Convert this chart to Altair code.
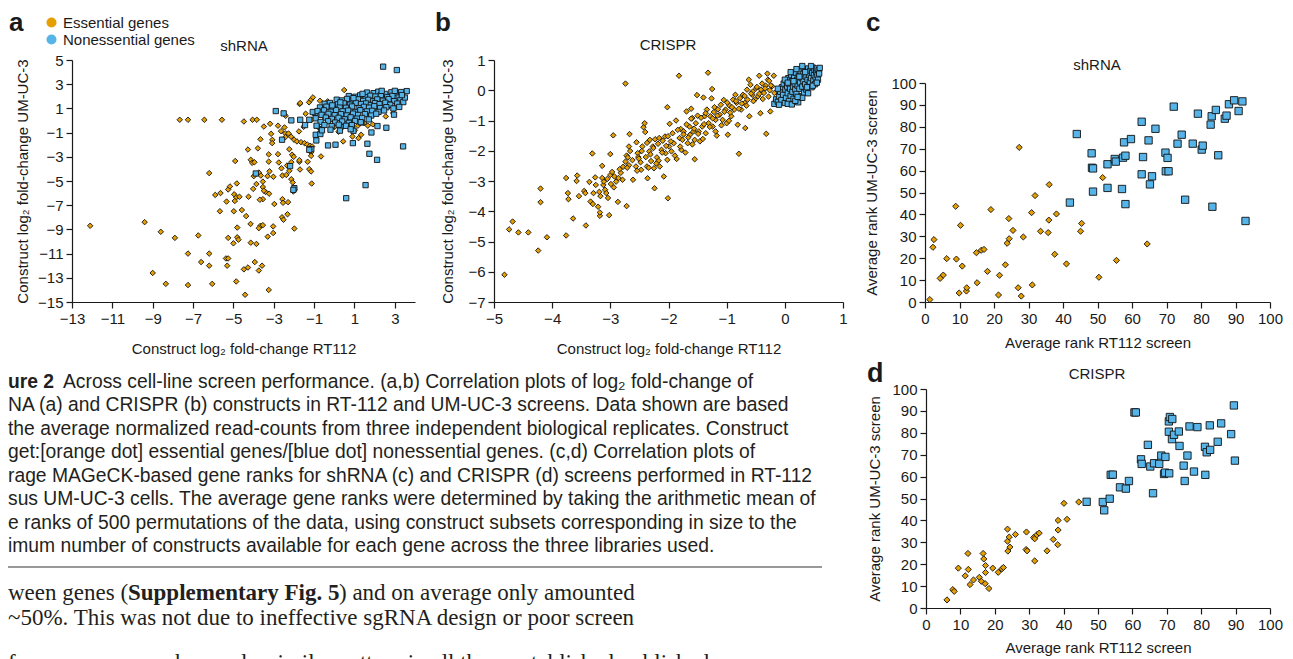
import altair as alt
import pandas as pd

FONT = "Liberation Sans"
SERIF = "Liberation Serif"
INK = "#1a1a1a"
ORANGE = "#E69F00"
BLUE = "#56B4E9"
GROUPS = ["Essential genes", "Nonessential genes"]

# ---------------- panel a : shRNA construct log2 fold-change ----------------
A_ESSENTIAL = [
    (-12.1, -8.7), (-9.4, -8.4), (-8.6, -9.2), (-7.9, -9.7), (-9.0, -12.6), (-8.35, -13.5), (-7.25, -13.6),
    (-7.25, -11.0), (-6.74, -9.5), (-6.6, -11.7), (-6.2, -11.0), (-6.2, -12.0), (-6.05, -13.5), (-6.2, -4.35),
    (-5.9, -6.15), (-5.64, -6.0), (-5.67, -7.5), (-5.34, -6.7), (-5.26, -5.7), (-5.17, -5.45), (-4.83, -5.2),
    (-4.91, -3.35), (-4.96, -6.1), (-4.86, -6.35), (-4.93, -6.65), (-4.7, -6.3), (-4.98, -7.5), (-4.81, -8.85),
    (-5.26, -9.7), (-5.0, -10.15), (-4.81, -9.65), (-4.75, -9.85), (-5.37, -11.4), (-5.26, -11.4), (-5.31, -12.0),
    (-4.86, -13.3), (-4.42, -14.4), (-4.48, -12.3), (-4.28, -12.15), (-3.94, -11.7), (-3.74, -12.4), (-3.58, -12.0),
    (-3.25, -14.0), (-4.58, -7.4), (-4.37, -7.9), (-4.15, -8.55), (-4.25, -6.3), (-4.28, -2.4), (-4.14, -3.25),
    (-4.07, -3.5), (-3.96, -3.45), (-3.99, -4.6), (-4.02, -5.65), (-3.86, -5.25), (-3.74, -4.3), (-3.64, -4.55),
    (-3.54, -5.05), (-3.54, -5.5), (-3.41, -5.9), (-3.54, -6.5), (-3.69, -6.55), (-3.49, -5.8), (-3.66, -8.7),
    (-3.54, -8.65), (-3.74, -8.9), (-4.14, -10.1), (-3.86, -10.2), (-3.66, -1.55), (-3.79, -2.3), (-3.25, -2.8),
    (-3.25, -3.4), (-3.21, -4.2), (-3.31, -4.6), (-3.02, -4.65), (-3.23, -6.05), (-2.97, -6.9), (-3.03, -8.75),
    (-3.03, -9.3), (-3.3, -9.6), (-3.49, -0.5), (-3.18, -0.27), (-3.13, -1.1), (-3.07, -1.6), (-3.08, -1.87),
    (-2.79, -0.43), (-2.79, -2.78), (-2.75, -3.47), (-2.62, -3.95), (-2.57, -4.55), (-2.57, -6.5), (-2.54, -6.8),
    (-2.59, -8.0), (-2.52, -8.2), (-2.32, -7.75), (-2.29, -6.75), (-2.64, -0.88), (-2.47, -0.57), (-2.42, -1.07),
    (-2.41, 0.39), (-2.42, -1.37), (-2.23, -2.37), (-2.09, -2.83), (-2.13, -3.44), (-2.01, -3.0), (-1.98, -8.93),
    (-2.03, -5.87), (-1.98, -5.68), (-2.13, -4.85), (-2.06, -5.12), (-2.34, -3.72), (-2.23, -4.16), (-2.38, -4.5),
    (-2.27, -1.07), (-2.14, -1.34), (-1.99, -1.59), (-1.85, -1.73), (-1.65, -1.79), (-1.48, -1.87), (-1.34, -1.98),
    (-1.2, -2.09), (-1.1, -2.14), (-1.73, -3.41), (-1.7, -4.05), (-1.73, -3.28), (-1.32, -3.41), (-1.24, -4.02),
    (-1.15, -4.21), (-1.12, -5.21), (-1.15, -2.64), (-1.15, -2.92), (-0.66, -2.97), (-1.72, 1.36), (-1.69, 1.44),
    (-1.25, 1.5), (-1.15, 1.72), (-1.06, 1.91), (-1.42, 0.56), (-1.52, -0.52), (-1.75, -0.9), (-1.12, 0.06),
    (-0.78, -0.57), (-0.71, 1.63), (0.49, 2.52), (0.0, -0.55), (0.44, -1.73), (0.9, -1.32), (1.17, -0.43),
    (1.2, -1.46), (1.33, -1.18), (1.48, -0.21), (1.66, -0.43), (2.55, 0.34), (1.73, 0.48), (-0.08, 1.0),
    (-7.66, 0.06), (-7.25, 0.06), (-6.44, 0.06), (-5.57, 0.06), (-4.48, -0.08), (-4.05, 0.06), (-3.84, 0.06),
    (-0.52, 0.31), (0.21, -0.93), (0.63, 0.02), (1.02, -0.81), (2.21, 0.93), (2.92, 0.62), (3.02, 1.13),
    (-0.33, 1.58), (0.84, 1.9), (1.91, -0.32),
]
A_NONESSENTIAL = [
    (2.42, 4.45), (3.1, 4.17), (3.59, 2.43), (3.41, -2.14), (2.12, -3.25), (1.55, -5.34), (0.59, -6.42),
    (1.74, -2.75), (1.64, -1.92), (0.92, -1.87), (0.06, -2.0), (-0.31, -2.06), (-0.89, -1.65), (-0.92, -1.18),
    (-0.69, -1.12), (-1.14, -2.37), (-1.24, -2.42), (-2.19, -3.77), (-1.98, -5.59), (-2.03, -5.73), (-3.89, -4.38),
    (-2.59, -1.59), (-2.9, 0.78), (-2.51, 0.59), (-2.13, 0.01), (-1.69, 0.06), (-1.45, -0.38), (-1.24, 0.06),
    (-0.94, 0.61), (-1.07, 0.7), (-0.64, -0.71), (2.14, -0.46), (2.58, -0.6), (2.96, 0.48), (2.63, 1.22),
    (1.84, -0.99), (0.95, -0.85), (0.31, -0.52), (1.35, -0.16), (1.63, 0.97), (3.23, 2.16),
    (1.62, 2.31), (1.95, 2.26), (2.18, 2.38), (2.52, 2.2), (2.83, 2.33), (3.08, 2.27), (3.31, 2.35),
    (0.72, 2.02), (1.04, 1.96), (1.28, 2.08), (1.55, 1.92), (1.79, 2.05), (2.04, 1.98), (2.31, 2.1), (2.62, 1.94),
    (2.88, 2.04), (3.19, 1.9), (0.12, 1.72), (0.38, 1.66), (0.63, 1.78), (0.91, 1.64), (1.18, 1.75), (1.43, 1.62),
    (1.69, 1.71), (1.92, 1.58), (2.13, 1.74), (2.41, 1.63), (2.69, 1.77), (2.97, 1.6), (3.28, 1.7),
    (-0.48, 1.38), (-0.22, 1.45), (0.18, 1.33), (0.47, 1.42), (0.79, 1.31), (1.07, 1.46), (1.32, 1.36),
    (1.58, 1.41), (1.81, 1.28), (2.02, 1.44), (2.24, 1.35), (2.53, 1.47), (2.77, 1.3), (3.12, 1.4), (3.42, 1.52),
    (-0.71, 1.08), (-0.39, 1.14), (-0.08, 1.02), (0.27, 1.12), (0.58, 1.05), (0.88, 1.16), (1.21, 1.01),
    (1.47, 1.13), (1.72, 1.06), (1.98, 1.18), (2.27, 1.03), (2.58, 1.1), (2.93, 1.0), (3.22, 1.12),
    (-0.83, 0.78), (-0.51, 0.84), (-0.18, 0.72), (0.09, 0.86), (0.41, 0.76), (0.69, 0.82), (1.02, 0.7),
    (1.29, 0.85), (1.61, 0.75), (1.88, 0.8), (2.19, 0.71), (2.47, 0.83), (-0.63, 0.47), (-0.29, 0.55),
    (0.02, 0.44), (0.33, 0.52), (0.62, 0.42), (0.93, 0.57), (1.18, 0.46), (1.52, 0.53), (1.83, 0.41),
    (2.08, 0.56), (-0.92, 0.18), (-0.42, 0.24), (-0.12, 0.13), (0.21, 0.22), (0.52, 0.1), (0.81, 0.26),
    (1.12, 0.15), (1.38, 0.21), (1.71, 0.09), (-0.68, -0.12), (-0.31, -0.06), (0.04, -0.17), (0.39, -0.08),
    (0.72, -0.19), (1.03, -0.04), (1.31, -0.14), (-0.88, -0.43), (-0.49, -0.37), (-0.13, -0.46), (0.22, -0.35),
    (0.58, -0.44), (0.87, -0.38), (-0.61, -0.81), (-0.19, -0.76), (0.28, -0.84), (0.81, -0.72),
    (3.5, 1.9), (3.35, 2.1), (3.0, 2.45), (2.35, 2.45), (1.4, 2.2), (0.95, 1.85), (0.3, 1.5), (-0.1, 1.25),
]

# ---------------- panel b : CRISPR construct log2 fold-change ----------------
B_ESSENTIAL = [
    (-4.82, -6.1), (-4.74, -4.6), (-4.68, -4.34), (-4.58, -4.7), (-4.41, -4.7), (-4.24, -5.3), (-4.2, -3.7),
    (-4.2, -3.25), (-4.09, -4.86), (-3.76, -4.8), (-3.76, -2.9), (-3.73, -3.4), (-3.72, -3.6), (-3.64, -4.24),
    (-3.58, -3.0), (-3.57, -2.82), (-3.54, -3.5), (-3.45, -3.33), (-3.43, -3.4), (-3.42, -4.47), (-3.36, -3.03),
    (-3.34, -3.68), (-3.31, -2.09), (-3.3, -3.76), (-3.29, -3.4), (-3.26, -2.88), (-3.25, -3.13), (-3.21, -3.85),
    (-3.18, -4.15), (-3.18, -4.04), (-3.17, -3.5), (-3.14, -2.5), (-3.14, -2.9), (-3.12, -3.13), (-3.09, -3.29),
    (-3.07, -3.4), (-3.04, -3.56), (-3.02, -4.13), (-3.05, -2.93), (-3.0, -2.8), (-2.99, -3.1), (-2.97, -2.7),
    (-2.95, -1.49), (-3.0, -2.11), (-2.93, -2.85), (-2.9, -3.02), (-2.87, -3.69), (-2.86, -2.9), (-2.82, -2.73),
    (-2.78, -2.53), (-2.74, 0.22), (-2.74, -2.36), (-2.72, -2.16), (-2.72, -3.83), (-2.7, -2.22), (-2.68, -2.48),
    (-2.68, -1.86), (-2.67, -1.45), (-2.61, -2.96), (-2.56, -2.52), (-2.55, -1.72), (-2.53, -2.08), (-2.52, -2.21),
    (-2.48, -2.38), (-2.47, -2.63), (-2.45, -1.86), (-2.43, -1.22), (-2.41, -1.09), (-2.4, -1.38), (-2.39, -2.21),
    (-2.37, -2.52), (-2.36, -2.91), (-2.33, -2.02), (-2.32, -1.64), (-2.3, -2.34), (-2.27, -1.86), (-2.25, -2.58),
    (-2.24, -3.24), (-2.23, -1.62), (-2.2, -2.22), (-2.18, -1.77), (-2.17, -2.33), (-2.15, -2.52), (-2.12, -1.97),
    (-2.1, -1.67), (-2.08, -2.85), (-2.06, -1.53), (-2.05, -2.08), (-2.02, -2.3), (-2.01, -3.57), (-2.02, -0.56),
    (-1.99, -1.86), (-1.98, -1.11), (-1.95, -2.02), (-1.93, -1.42), (-1.91, -1.75), (-1.87, -1.0), (-1.86, -2.27),
    (-1.82, 0.48), (-1.81, -1.58), (-1.79, -1.28), (-1.78, -1.97), (-1.76, -1.64), (-1.74, -1.36), (-1.71, -2.06),
    (-1.69, -0.7), (-1.67, -1.75), (-1.64, -1.2), (-1.63, -1.47), (-1.61, -0.61), (-1.59, -0.92), (-1.57, -1.36),
    (-1.55, -2.28), (-1.55, -1.64), (-1.53, -1.09), (-1.51, -0.16), (-1.5, -0.84), (-1.48, -1.36), (-1.46, -1.69),
    (-1.42, -1.2), (-1.4, -0.24), (-1.38, -0.86), (-1.36, -1.42), (-1.34, -0.64), (-1.32, 0.58), (-1.31, -1.09),
    (-1.28, -0.86), (-1.26, -0.27), (-1.25, 0.04), (-1.24, -1.2), (-1.22, -0.72), (-1.19, -0.98), (-1.17, -1.5),
    (-1.15, -0.63), (-1.12, -0.81), (-1.1, -0.48), (-1.07, -0.98), (-1.05, -0.32), (-1.02, -0.64), (-1.0, -1.09),
    (-0.98, -1.47), (-0.95, -0.51), (-0.92, -0.86), (-0.89, -0.31), (-0.87, -0.64), (-0.85, -0.15), (-0.83, -0.42),
    (-0.81, -1.14), (-0.79, -2.1), (-0.77, -0.26), (-0.75, -0.64), (-0.72, -0.15), (-0.69, -0.42), (-0.68, -1.25),
    (-0.65, 0.02), (-0.64, -0.31), (-0.62, 0.35), (-0.61, -0.86), (-0.59, 0.18), (-0.56, -0.15), (-0.55, -0.04),
    (-0.52, -0.31), (-0.49, 0.07), (-0.46, -0.2), (-0.44, 0.48), (-0.42, -0.76), (-0.41, 0.02), (-0.39, 0.22),
    (-0.36, -0.09), (-0.33, 0.15), (-0.32, -1.44), (-0.3, 0.55), (-0.29, 0.35), (-0.26, 0.0), (-0.25, -0.7),
    (-0.22, 0.13), (-0.19, 0.48), (-0.18, -0.09), (-0.15, -0.31),
    (-2.46, -2.01), (-2.37, -1.74), (-2.31, -2.12), (-2.26, -1.91), (-2.21, -2.42), (-2.16, -1.58), (-2.11, -2.06),
    (-2.04, -1.84), (-2.01, -1.52), (-1.96, -1.69), (-1.89, -2.16), (-1.84, -1.31), (-1.8, -1.86), (-1.74, -1.46),
    (-1.69, -1.13), (-1.66, -1.56), (-1.61, -0.94), (-1.56, -1.27), (-1.49, -1.44), (-1.44, -0.91), (-1.39, -1.12),
    (-1.36, -0.76), (-1.29, -1.21), (-1.24, -0.93), (-1.21, -0.56), (-1.16, -0.84), (-1.09, -1.16), (-1.04, -0.71),
    (-0.99, -0.41), (-0.94, -0.74), (-0.91, -0.56), (-0.84, -0.36), (-0.79, -0.61), (-0.74, -0.44), (-0.69, -0.19),
    (-0.66, -0.51), (-0.58, -0.11), (-0.54, -0.36), (-0.48, 0.11), (-0.44, -0.12), (-0.38, -0.29), (-0.34, 0.06),
    (-0.28, -0.21), (-0.27, 0.31), (-0.24, 0.16), (-2.62, -2.31), (-2.71, -2.56), (-2.79, -2.96), (-2.84, -2.61),
    (-2.94, -3.21), (-3.11, -3.02), (-3.19, -3.36), (-2.66, -2.01), (-2.54, -2.66), (-2.51, -2.26), (-2.34, -2.56),
    (-1.59, -1.79), (-1.41, -1.61), (-1.19, -1.36), (-0.96, -1.01),
]
B_NONESSENTIAL = [
    (-0.18, -0.45), (-0.15, -0.3), (-0.12, -0.38), (-0.1, -0.2), (-0.08, -0.05), (-0.06, -0.32), (-0.05, 0.1),
    (-0.03, -0.15), (-0.02, 0.22), (0.0, -0.42), (0.01, 0.02), (0.02, -0.25), (0.03, 0.3), (0.04, 0.12),
    (0.05, -0.1), (0.06, 0.4), (0.07, -0.35), (0.08, 0.2), (0.09, 0.05), (0.1, -0.18), (0.11, 0.5), (0.12, 0.3),
    (0.13, -0.05), (0.14, 0.12), (0.15, -0.28), (0.16, 0.42), (0.17, 0.22), (0.18, 0.02), (0.19, 0.58),
    (0.2, -0.12), (0.21, 0.35), (0.22, 0.15), (0.23, -0.4), (0.24, 0.48), (0.25, 0.05), (0.26, 0.26), (0.27, 0.62),
    (0.28, -0.2), (0.29, 0.4), (0.3, 0.12), (0.31, 0.55), (0.32, 0.3), (0.33, -0.08), (0.34, 0.68), (0.35, 0.2),
    (0.36, 0.45), (0.37, 0.02), (0.38, 0.6), (0.39, 0.35), (0.4, 0.72), (0.41, 0.15), (0.42, 0.5), (0.43, 0.28),
    (0.44, 0.65), (0.45, 0.4), (0.46, 0.1), (0.47, 0.58), (0.48, 0.75), (0.49, 0.32), (0.5, 0.5), (0.51, 0.68),
    (0.52, 0.2), (0.53, 0.42), (0.54, 0.62), (0.55, 0.72), (0.56, 0.5), (0.57, 0.35), (0.58, 0.66), (0.59, 0.55),
    (0.6, 0.74), (-0.1, -0.48), (0.05, -0.45), (0.12, -0.47), (0.18, -0.35), (0.3, -0.25), (0.4, -0.1),
    (0.0, 0.35), (0.1, 0.6), (0.2, 0.7), (0.3, 0.8), (0.45, 0.8), (0.35, 0.6), (0.25, 0.45), (0.15, 0.3),
    (0.05, 0.25), (-0.12, 0.05), (0.22, -0.22), (0.38, 0.1), (0.48, 0.15), (0.55, 0.25),
]

# ---------------- panel c : shRNA average gene ranks ----------------
C_ESSENTIAL = [
    (1.4, 1.1), (2.6, 28.5), (2.3, 25.0), (4.4, 10.8), (5.3, 12.3), (6.3, 19.8), (8.9, 43.7), (9.1, 19.6),
    (9.9, 4.1), (10.3, 35.0), (10.8, 16.4), (12.0, 5.0), (12.1, 6.5), (14.9, 22.5), (15.1, 8.8), (16.3, 23.6),
    (17.1, 24.0), (18.1, 14.0), (19.1, 42.2), (21.3, 3.2), (21.6, 12.2), (23.3, 17.0), (23.8, 26.8), (24.3, 38.1),
    (24.4, 28.9), (25.5, 32.7), (27.0, 6.5), (27.3, 70.6), (27.9, 2.7), (28.5, 29.7), (30.9, 40.8), (31.1, 7.8),
    (31.9, 48.6), (33.5, 32.3), (35.7, 31.7), (35.9, 37.4), (36.0, 53.6), (37.6, 21.8), (38.1, 40.2), (41.0, 17.4),
    (45.1, 32.3), (45.4, 35.9), (50.4, 11.3), (51.5, 56.8), (55.5, 19.0), (64.4, 26.5),
]
C_NONESSENTIAL = [
    (42.0, 45.4), (44.0, 76.7), (48.3, 67.9), (48.4, 61.3), (48.7, 61.0), (48.7, 50.4), (52.9, 62.9), (52.9, 52.1),
    (55.0, 65.3), (55.3, 64.1), (57.1, 51.6), (57.4, 65.9), (57.7, 72.9), (58.1, 66.8), (58.1, 44.7), (59.7, 74.4),
    (62.8, 82.3), (62.8, 58.3), (63.2, 66.2), (64.8, 73.8), (65.2, 53.7), (65.8, 57.4), (66.8, 79.1), (69.7, 68.2),
    (70.3, 65.8), (69.8, 59.7), (70.6, 59.7), (72.1, 89.2), (73.2, 72.3), (74.4, 76.4), (75.4, 46.7), (77.6, 72.3),
    (79.1, 86.0), (80.2, 69.6), (80.5, 71.4), (82.8, 81.0), (83.1, 84.8), (83.3, 43.5), (84.3, 87.7), (85.0, 67.0),
    (86.9, 83.7), (87.4, 85.1), (88.1, 90.3), (89.6, 92.1), (90.9, 87.2), (92.0, 91.6), (92.9, 37.0),
]

# ---------------- panel d : CRISPR average gene ranks ----------------
D_ESSENTIAL = [
    (6.1, 3.7), (7.8, 8.4), (8.2, 7.6), (9.4, 18.2), (11.4, 14.7), (12.2, 24.9), (12.3, 17.6), (12.8, 10.7),
    (13.8, 12.8), (15.5, 14.0), (16.1, 12.2), (16.6, 24.9), (16.8, 22.4), (17.2, 11.1), (17.3, 16.2), (17.3, 19.4),
    (18.3, 8.9), (19.4, 18.2), (21.0, 16.3), (22.1, 17.9), (22.5, 18.5), (23.7, 36.0), (23.8, 26.0), (23.7, 30.5),
    (24.2, 32.4), (24.4, 27.8), (26.0, 33.6), (29.1, 26.7), (29.2, 34.7), (29.4, 26.1), (31.3, 32.2), (31.6, 31.6),
    (31.6, 21.5), (32.2, 33.4), (32.9, 34.2), (35.2, 26.1), (37.0, 31.3), (38.3, 28.9), (38.4, 35.6), (38.4, 40.0),
    (40.1, 47.8), (41.0, 40.5), (44.4, 48.4),
]
D_NONESSENTIAL = [
    (46.7, 48.5), (51.4, 48.4), (51.8, 44.6), (53.4, 49.9), (53.7, 60.8), (54.3, 60.9), (56.4, 55.1), (58.1, 54.5),
    (59.0, 58.0), (60.6, 89.3), (61.0, 89.3), (62.5, 67.9), (62.7, 65.8), (64.5, 74.5), (65.2, 64.6), (66.0, 52.4),
    (66.3, 66.1), (67.8, 65.8), (68.4, 69.6), (69.2, 61.2), (69.6, 69.0), (69.5, 61.8), (70.6, 80.5), (70.6, 85.2),
    (70.9, 87.2), (71.6, 86.3), (71.5, 77.1), (72.1, 79.1), (70.7, 61.5), (73.5, 80.6), (73.7, 74.0), (74.9, 65.0),
    (75.2, 58.0), (76.0, 69.6), (76.6, 82.9), (77.9, 62.3), (78.9, 82.6), (81.1, 73.6), (81.2, 60.8), (81.6, 71.1),
    (82.6, 72.2), (82.5, 83.4), (84.8, 75.9), (85.8, 84.3), (88.7, 79.4), (89.5, 92.5), (89.8, 67.3),
]

# tick labels
A_XTICKS = [-13, -11, -9, -7, -5, -3, -1, 1, 3]
A_YTICKS = [5, 3, 1, -1, -3, -5, -7, -9, -11, -13, -15]
B_XTICKS = [-5, -4, -3, -2, -1, 0, 1]
B_YTICKS = [1, 0, -1, -2, -3, -4, -5, -6, -7]
RANK_TICKS = [0, 10, 20, 30, 40, 50, 60, 70, 80, 90, 100]

CAPTION = [
    "Across cell-line screen performance. (a,b) Correlation plots of log\u2082 fold-change of",
    "NA (a) and CRISPR (b) constructs in RT-112 and UM-UC-3 screens. Data shown are based",
    "the average normalized read-counts from three independent biological replicates. Construct",
    "get:[orange dot] essential genes/[blue dot] nonessential genes. (c,d) Correlation plots of",
    "rage MAGeCK-based gene ranks for shRNA (c) and CRISPR (d) screens performed in RT-112",
    "sus UM-UC-3 cells. The average gene ranks were determined by taking the arithmetic mean of",
    "e ranks of 500 permutations of the data, using construct subsets corresponding in size to the",
    "imum number of constructs available for each gene across the three libraries used.",
]
BODY = [
    ["ween genes (", "Supplementary Fig. 5", ") and on average only amounted"],
    ["~50%. This was not due to ineffective sgRNA design or poor screen"],
    ["formance, as we observed a similar pattern in all three established published"],
]


def frame(ess, non):
    rows = [{"x": x, "y": y, "group": GROUPS[0]} for x, y in ess]
    rows += [{"x": x, "y": y, "group": GROUPS[1]} for x, y in non]
    return pd.DataFrame(rows)


fill_enc = alt.Fill(
    "group:N",
    scale=alt.Scale(domain=GROUPS, range=[ORANGE, BLUE]),
    legend=alt.Legend(title=None, orient="none", legendX=36, legendY=7, symbolType="circle",
                      symbolSize=100, symbolStrokeWidth=0, labelFontSize=15, labelFont=FONT,
                      labelColor=INK, labelOffset=4, rowPadding=1),
)
# no explicit domain here so this scale is not merged with the fill legend
shape_enc = alt.Shape("group:N", scale=alt.Scale(range=["diamond", "square"]), legend=None)


def panel(df, xdom, xr, xticks, xoff, xtitle, xpad, ydom, yr, yticks, yoff, ytitle, ypad, dsize, ssize):
    return alt.Chart(df).mark_point(filled=True, opacity=1, stroke="#111111", strokeWidth=0.9).encode(
        x=alt.X("x:Q", scale=alt.Scale(domain=xdom, range=xr, nice=False, zero=False),
                axis=alt.Axis(values=xticks, orient="bottom", offset=xoff, title=xtitle, titlePadding=xpad)),
        y=alt.Y("y:Q", scale=alt.Scale(domain=ydom, range=yr, nice=False, zero=False),
                axis=alt.Axis(values=yticks, orient="left", offset=yoff, title=ytitle, titlePadding=ypad)),
        fill=fill_enc,
        shape=shape_enc,
        size=alt.condition(alt.datum.group == GROUPS[0], alt.value(dsize), alt.value(ssize)),
    )


H = 651
W = 1277
LOG_X = "Construct log\u2082 fold-change RT112"
LOG_Y = "Construct log\u2082 fold-change UM-UC-3"

pa = panel(frame(A_ESSENTIAL, A_NONESSENTIAL), [-13, 4], [64, 407], A_XTICKS, 294 - H, LOG_X, 15,
           [-15, 5], [294, 52], A_YTICKS, -64, LOG_Y, 7, 30, 28)
pb = panel(frame(B_ESSENTIAL, B_NONESSENTIAL), [-5, 1], [486, 835], B_XTICKS, 294 - H, LOG_X, 15,
           [-7, 1], [294, 52], B_YTICKS, -486, LOG_Y, 12, 30, 28)
pc = panel(frame(C_ESSENTIAL, C_NONESSENTIAL), [0, 100], [917, 1262], RANK_TICKS, 294 - H,
           "Average rank RT112 screen", 9, [0, 100], [294, 75], RANK_TICKS, -917,
           "Average rank UM-UC-3 screen", 11, 38, 54)
pd_ = panel(frame(D_ESSENTIAL, D_NONESSENTIAL), [0, 100], [918, 1262], RANK_TICKS, 600 - H,
            "Average rank RT112 screen", 8, [0, 100], [600, 381], RANK_TICKS, -918,
            "Average rank UM-UC-3 screen", 9, 38, 54)


def label(txt, x, y, size, weight="normal", font=FONT, align="left", color=INK):
    return alt.Chart(pd.DataFrame({"t": [txt]})).mark_text(
        align=align, baseline="alphabetic", fontSize=size, fontWeight=weight, font=font, color=color
    ).encode(x=alt.value(x), y=alt.value(y), text="t:N")


texts = [
    label("a", 1, 23, 26, "bold"), label("b", 427, 23, 26, "bold"),
    label("c", 858, 23, 26, "bold"), label("d", 859, 374, 27, "bold"),
    label("shRNA", 236, 43, 15, align="center"), label("CRISPR", 660, 42, 15, align="center"),
    label("shRNA", 1089, 62, 15, align="center"), label("CRISPR", 1089, 371, 15, align="center"),
]

CAP_SIZE = 19.3
CAP_Y0 = 380
CAP_STEP = 23.45
texts.append(label("ure 2", 0, CAP_Y0, CAP_SIZE, "bold", color="#231f20"))
for i, line in enumerate(CAPTION):
    texts.append(label(line, 55 if i == 0 else 0, CAP_Y0 + i * CAP_STEP, CAP_SIZE, color="#231f20"))

rule = alt.Chart(pd.DataFrame({"t": [0]})).mark_rule(color="#333333", strokeWidth=1).encode(
    x=alt.value(0), x2=alt.value(814), y=alt.value(559))

BODY_SIZE = 23
BODY_Y = [592, 617, 662]
body_x = [0, 120, 331]
for i, segs in enumerate(BODY):
    for j, seg in enumerate(segs):
        texts.append(label(seg, body_x[j], BODY_Y[i], BODY_SIZE,
                           "bold" if (i == 0 and j == 1) else "normal", font=SERIF, color="#231f20"))

chart = alt.layer(pa, pb, pc, pd_, rule, *texts).resolve_scale(
    x="independent", y="independent"
).resolve_axis(
    x="independent", y="independent"
).properties(
    width=W, height=H, autosize=alt.AutoSizeParams(type="none"), padding=0
).configure_view(stroke=None).configure_axis(
    labelFont=FONT, titleFont=FONT, labelFontSize=15, titleFontSize=15, titleFontWeight="normal",
    labelColor=INK, titleColor=INK, domainColor=INK, tickColor=INK, tickSize=6, labelPadding=3,
    grid=False, labelFlush=False, labelOverlap=False, domainWidth=1.2, tickWidth=1.2,
)

chart.save("out.html", embed_options={"renderer": "svg", "actions": False})
